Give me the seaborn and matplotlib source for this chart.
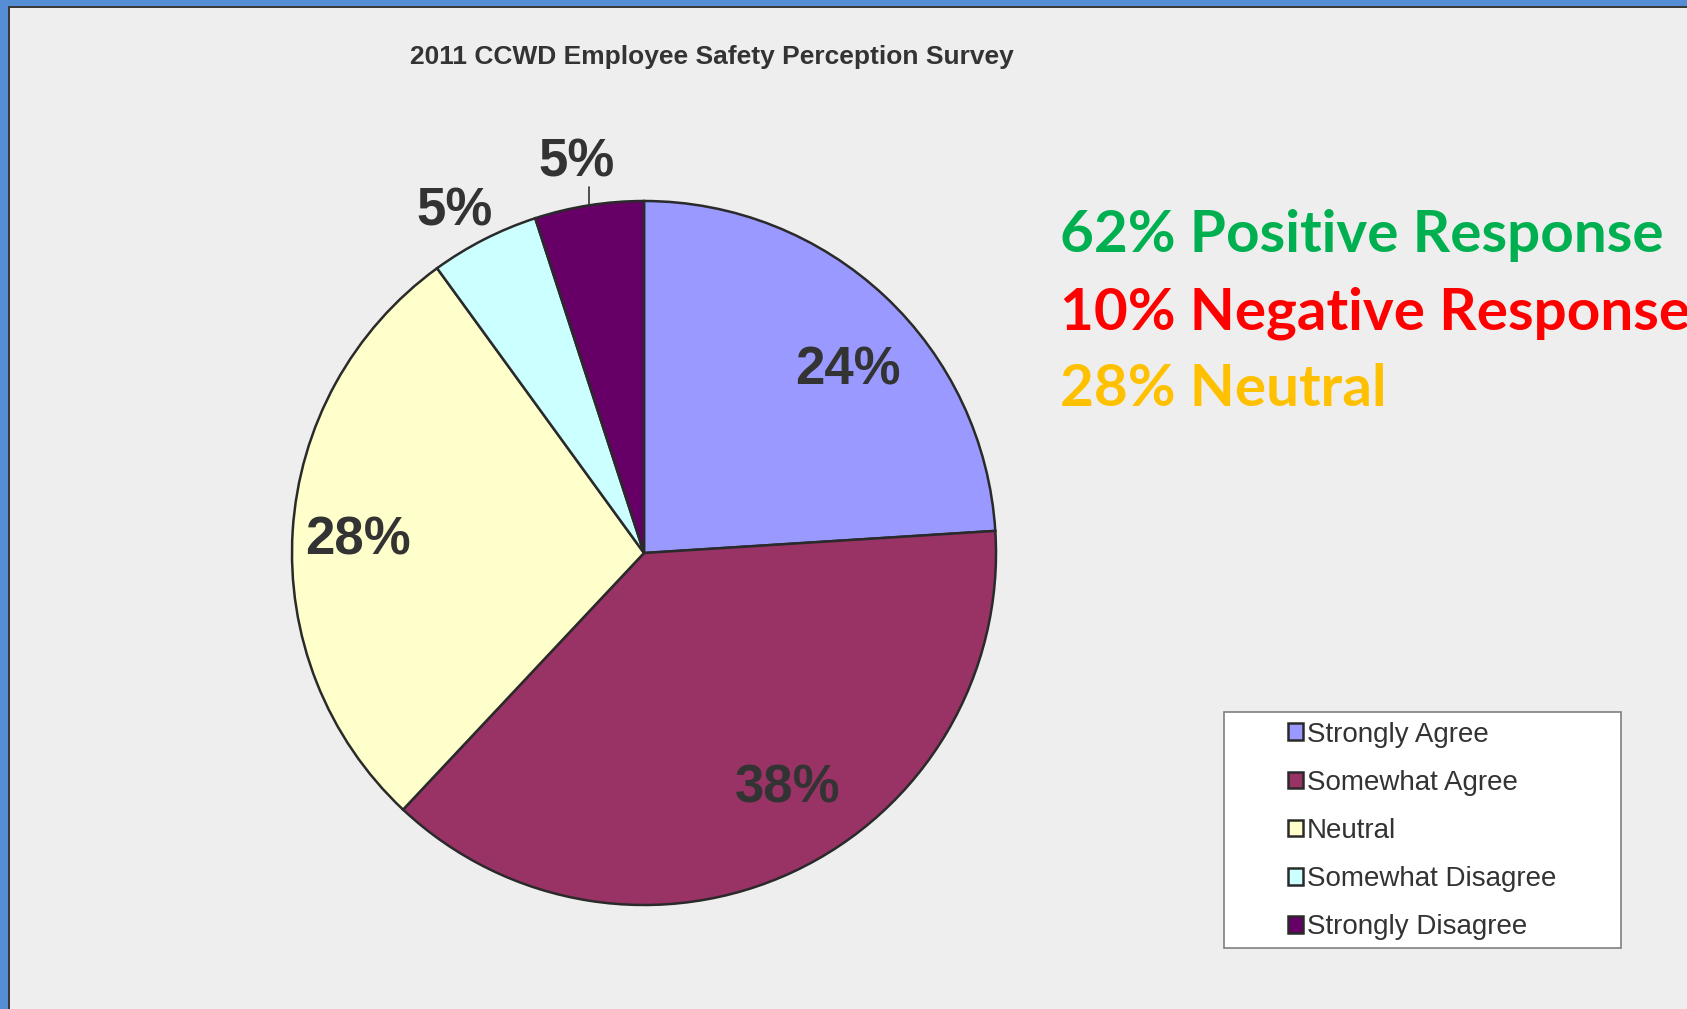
"""2011 CCWD employee safety perception survey - pie chart."""
import matplotlib
matplotlib.use("Agg")
import matplotlib.pyplot as plt
import numpy as np
import seaborn as sns
from matplotlib.patches import Rectangle

categories = ["Strongly Agree", "Somewhat Agree", "Neutral",
              "Somewhat Disagree", "Strongly Disagree"]
shares = [24, 38, 28, 5, 5]
summary_lines = ["62% Positive Response", "10% Negative Response", "28% Neutral"]
title = "2011 CCWD Employee Safety Perception Survey"

slice_colors = ["#9999ff", "#993366", "#ffffcc", "#ccffff", "#660066"]
summary_colors = ["#00b050", "#ff0000", "#ffc000"]
# label placement: radius fraction and angle shift from wedge middle (deg)
label_dist = [0.786, 0.77, 0.815, 1.122, 1.141]
label_shift = [-4.2, 6.7, 0.2, 1.7, 0.7]

W, H = 1687, 1009
BG = "#eeeeee"
INK = "#333333"

sns.set_theme(style="white")
plt.rcParams["font.family"] = ["Liberation Sans", "DejaVu Sans"]

fig = plt.figure(figsize=(W / 100, H / 100), dpi=100, facecolor=BG)
ax = fig.add_axes([0, 0, 1, 1])
ax.set_facecolor(BG)

cx, cy, R = 644, H - 553, 352
wedges, _, autotexts = ax.pie(
    shares, colors=sns.color_palette(slice_colors), startangle=90,
    counterclock=False, center=(cx, cy), radius=R, autopct="%.0f%%",
    wedgeprops=dict(edgecolor="#2a2a2a", linewidth=1.8),
    textprops=dict(fontsize=38, fontweight="bold", color=INK),
)
ax.set_xlim(0, W)
ax.set_ylim(0, H)
ax.set_aspect("auto")
ax.axis("off")

for w, t, d, s in zip(wedges, autotexts, label_dist, label_shift):
    mid = np.deg2rad((w.theta1 + w.theta2) / 2 + s)
    t.set_position((cx + d * R * np.cos(mid), cy + d * R * np.sin(mid) - 5))

# leader line for the last small slice
last = wedges[-1]
mid = np.deg2rad((last.theta1 + last.theta2) / 2)
lx, ly = cx + R * np.cos(mid), cy + R * np.sin(mid)
ax.plot([lx, lx], [ly, ly + 18], color=INK, lw=1.2)

ax.text(712, H - 57, title, ha="center", va="center", fontsize=19,
        fontweight="bold", color=INK)

for i, (line, col) in enumerate(zip(summary_lines, summary_colors)):
    ax.text(1060, H - (252 + 77 * i), line, ha="left", va="baseline",
            fontsize=42, fontweight="bold", color=col, family=["Lato", "DejaVu Sans"])

# legend box
ax.add_patch(Rectangle((1224, H - 948), 397, 236, facecolor="white",
                       edgecolor="#7f7f7f", lw=1.2, zorder=3))
leg = ax.legend(wedges, categories, loc="center left",
                bbox_to_anchor=(1288, H - 831), bbox_transform=ax.transData,
                frameon=False, fontsize=20, handlelength=0.54, handleheight=0.54,
                handletextpad=0.15, labelspacing=0.8, borderpad=0, borderaxespad=0)
leg.set_zorder(4)
for txt in leg.get_texts():
    txt.set_color(INK)

# window frame
fig.patches.append(Rectangle((0, 0), 8 / W, 1, transform=fig.transFigure,
                             facecolor="#558ed5", edgecolor="none"))
fig.patches.append(Rectangle((0, 1 - 6 / H), 1, 6 / H, transform=fig.transFigure,
                             facecolor="#558ed5", edgecolor="none"))
fig.patches.append(Rectangle((8 / W, 0), 1.5 / W, 1 - 6 / H, transform=fig.transFigure,
                             facecolor="#3a3a3a", edgecolor="none"))
fig.patches.append(Rectangle((8 / W, 1 - 7.5 / H), 1, 1.5 / H, transform=fig.transFigure,
                             facecolor="#3a3a3a", edgecolor="none"))

fig.savefig("out.png", dpi=100, facecolor=BG)
